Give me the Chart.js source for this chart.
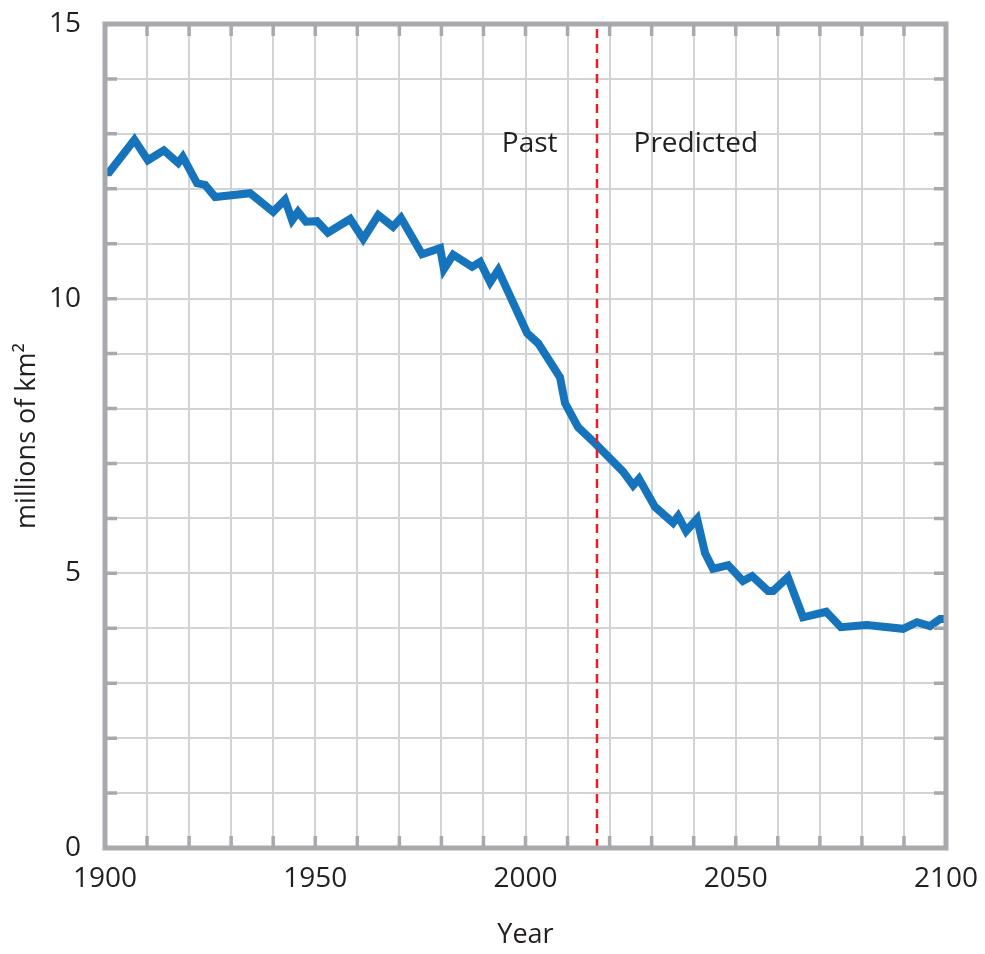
<!DOCTYPE html>
<html lang="en">
<head>
  <meta charset="UTF-8" />
  <title>Sea ice extent</title>
  <script src="https://cdn.jsdelivr.net/npm/chart.js"></script>
  <style>
    html, body {
      margin: 0;
      padding: 0;
      background: #fff;
    }
    #chart-container {
      width: 985px;
      height: 954px;
    }
  </style>
</head>
<body>
  <div id="chart-container">
    <canvas id="iceChart"></canvas>
  </div>

  <script>
    // values
    const years = [1900, 1901, 1907, 1910.2, 1914, 1917.4, 1918.5, 1921.9, 1923.8, 1926.2,
      1934.5, 1940, 1942.8, 1944.5, 1945.9, 1947.8, 1950.4, 1953, 1958.3, 1961.4,
      1965, 1968.5, 1970.4, 1975.4, 1979.7, 1980.6, 1982.8, 1987.3, 1989.2, 1991.6,
      1993.5, 2000.4, 2003, 2008.2, 2009.4, 2012.5, 2016.5, 2023.2, 2025.6, 2027,
      2030.8, 2035.1, 2036.3, 2038.2, 2040.8, 2042.7, 2044.6, 2048.2, 2051.7, 2053.9,
      2057.7, 2058.9, 2062.4, 2066, 2071.5, 2075, 2081.2, 2089.8, 2093.1, 2096.2,
      2098.6, 2100];
    const extent = [12.3, 12.3, 12.89, 12.52, 12.7, 12.47, 12.58, 12.1, 12.07, 11.85,
      11.92, 11.58, 11.8, 11.43, 11.58, 11.4, 11.41, 11.2, 11.45, 11.09,
      11.52, 11.31, 11.47, 10.81, 10.92, 10.54, 10.8, 10.58, 10.67, 10.3,
      10.52, 9.37, 9.19, 8.57, 8.1, 7.66, 7.37, 6.85, 6.6, 6.72,
      6.21, 5.92, 6.04, 5.77, 5.99, 5.37, 5.08, 5.15, 4.86, 4.95,
      4.68, 4.68, 4.93, 4.2, 4.3, 4.02, 4.06, 3.99, 4.11, 4.04,
      4.17, 4.17];

    const splitYear = 2017;
    const labeledYears = [1900, 1950, 2000, 2050, 2100];
    const labeledValues = [0, 5, 10, 15];
    const notes = ['Past', 'Predicted'];
    const noteYears = [2001, 2040.5];
    const noteValue = 12.82;

    const FONT = '"Open Sans", "Noto Sans", sans-serif';
    const FRAME = '#a7a9ac';

    // frame, inner tick stubs and the two text notes
    const framePlugin = {
      id: 'frame',
      afterDatasetsDraw(chart) {
        const { ctx, chartArea: a, scales: { x, y } } = chart;
        ctx.save();
        ctx.strokeStyle = FRAME;
        ctx.lineWidth = 3.5;
        const stub = 12;
        x.ticks.forEach(t => {
          const px = x.getPixelForValue(t.value);
          ctx.beginPath();
          ctx.moveTo(px, a.bottom); ctx.lineTo(px, a.bottom - stub);
          ctx.moveTo(px, a.top); ctx.lineTo(px, a.top + stub);
          ctx.stroke();
        });
        y.ticks.forEach(t => {
          const py = y.getPixelForValue(t.value);
          ctx.beginPath();
          ctx.moveTo(a.left, py); ctx.lineTo(a.left + stub, py);
          ctx.moveTo(a.right, py); ctx.lineTo(a.right - stub, py);
          ctx.stroke();
        });
        ctx.lineWidth = 5;
        ctx.strokeRect(a.left, a.top, a.right - a.left, a.bottom - a.top);

        ctx.fillStyle = '#231f20';
        ctx.font = '28px ' + FONT;
        ctx.textAlign = 'center';
        ctx.textBaseline = 'middle';
        notes.forEach((s, i) => {
          ctx.fillText(s, x.getPixelForValue(noteYears[i]), y.getPixelForValue(noteValue));
        });
        ctx.restore();
      }
    };

    new Chart(document.getElementById('iceChart'), {
      type: 'line',
      data: {
        datasets: [
          {
            data: [{ x: splitYear, y: 0 }, { x: splitYear, y: 15 }],
            borderColor: '#ed1c24',
            borderWidth: 2.5,
            borderDash: [9, 6],
            pointRadius: 0,
            order: 0
          },
          {
            data: years.map((yr, i) => ({ x: yr, y: extent[i] })),
            borderColor: '#1574bb',
            borderWidth: 8,
            pointRadius: 0,
            tension: 0,
            order: 1
          }
        ]
      },
      options: {
        responsive: true,
        maintainAspectRatio: false,
        animation: false,
        layout: { padding: { top: 24, right: 39, left: 0, bottom: 0 } },
        plugins: {
          legend: { display: false },
          tooltip: { enabled: false }
        },
        scales: {
          x: {
            type: 'linear',
            min: 1900,
            max: 2100,
            border: { display: false },
            grid: { color: '#d1d3d4', lineWidth: 2, drawTicks: false },
            ticks: {
              stepSize: 10,
              padding: 14,
              color: '#231f20',
              font: { family: FONT, size: 28 },
              maxRotation: 0,
              autoSkip: false,
              callback: v => labeledYears.includes(v) ? String(v) : ''
            },
            title: {
              display: true,
              text: 'Year',
              color: '#231f20',
              font: { family: FONT, size: 27 },
              padding: { top: 0, bottom: 2 }
            },
            afterFit: s => {
              s.height = 106;
              s.paddingLeft = 0;
              s.paddingRight = 0;
            }
          },
          y: {
            min: 0,
            max: 15,
            border: { display: false },
            grid: { color: '#d1d3d4', lineWidth: 2, drawTicks: false },
            ticks: {
              stepSize: 1,
              padding: 24,
              color: '#231f20',
              font: { family: FONT, size: 28 },
              autoSkip: false,
              callback: v => labeledValues.includes(v) ? String(v) : ''
            },
            title: {
              display: true,
              text: 'millions of km²',
              color: '#231f20',
              font: { family: FONT, size: 27 },
              padding: { top: 11, bottom: 0 }
            },
            afterFit: s => {
              s.width = 105;
              s.paddingTop = 0;
              s.paddingBottom = 0;
            }
          }
        }
      },
      plugins: [framePlugin]
    });
  </script>
</body>
</html>
